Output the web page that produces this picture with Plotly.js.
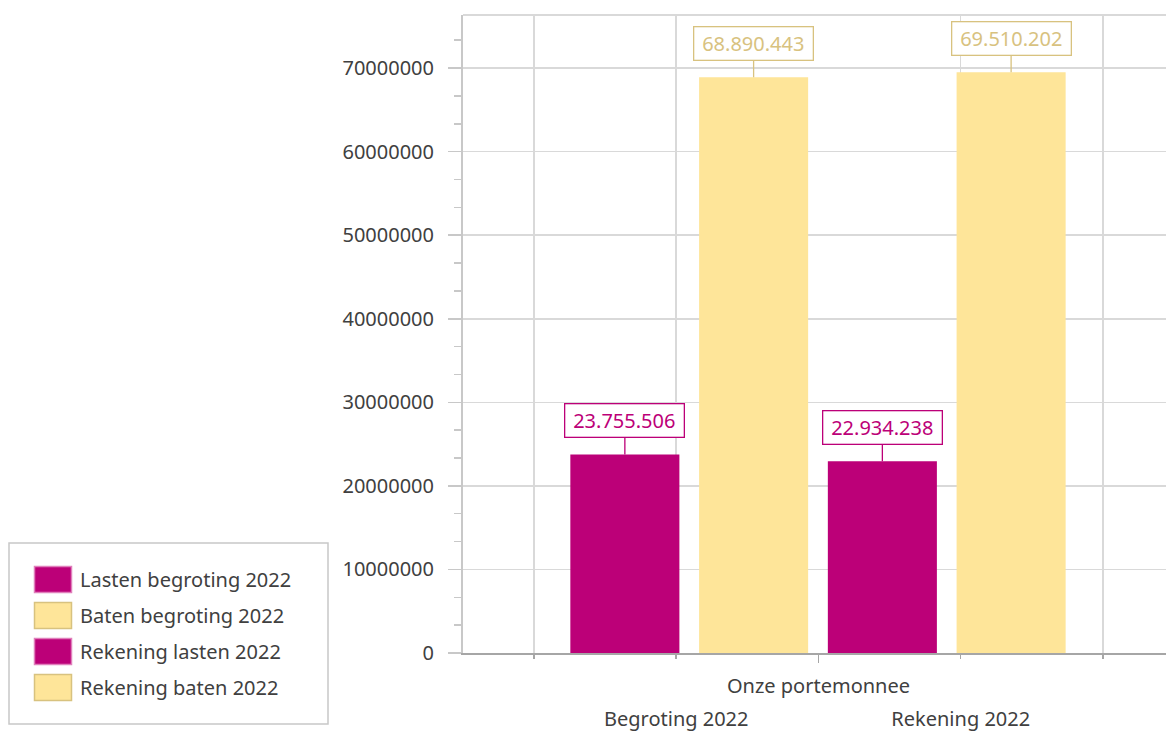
<!DOCTYPE html>
<html>
<head>
<meta charset="utf-8">
<script src="https://cdn.plot.ly/plotly-3.0.1.min.js"></script>
<style>
  html, body { margin: 0; padding: 0; background: #fff; }
  #chart { width: 1166px; height: 731px; }
</style>
</head>
<body>
<div id="chart"></div>
<script>
// ---- data ----
const categories = ['Begroting 2022', 'Rekening 2022'];
const groupTitle = 'Onze portemonnee';
const seriesNames = ['Lasten begroting 2022', 'Baten begroting 2022', 'Rekening lasten 2022', 'Rekening baten 2022'];
const lastenBegroting = [23755506];
const batenBegroting = [68890443];
const rekeningLasten = [22934238];
const rekeningBaten = [69510202];

// ---- style ----
const MAGENTA = '#BC0078';
const YELLOW = '#FEE599';
const YELLOW_DARK = '#D8C27F';
const TEXT = '#404040';
const FONT = 'Noto Sans';
const GRID = '#d9d9d9';

function nl(v) { return String(v).replace(/\B(?=(\d{3})+(?!\d))/g, '.'); }

const seriesDefs = [
  { name: seriesNames[0], cat: 0, values: lastenBegroting, group: 'lasten', color: MAGENTA, label: MAGENTA, swatchLine: '#e07fbb' },
  { name: seriesNames[1], cat: 0, values: batenBegroting, group: 'baten', color: YELLOW, label: YELLOW_DARK, swatchLine: YELLOW_DARK },
  { name: seriesNames[2], cat: 1, values: rekeningLasten, group: 'lasten', color: MAGENTA, label: MAGENTA, swatchLine: '#e07fbb' },
  { name: seriesNames[3], cat: 1, values: rekeningBaten, group: 'baten', color: YELLOW, label: YELLOW_DARK, swatchLine: YELLOW_DARK }
];
const groupOffset = { lasten: -0.25, baten: 0.25 };

const traces = seriesDefs.map((s, i) => ({
  type: 'bar',
  name: s.name,
  x: [categories[s.cat]],
  y: s.values,
  offsetgroup: s.group,
  legendgroup: 'g' + i,
  marker: { color: s.color, line: { width: 0 } },
  hovertemplate: '%{y}<extra>' + s.name + '</extra>'
}));
// empty helper traces so the overlay axes (group title, category labels, grid) are drawn
traces.push({ type: 'scatter', x: [], y: [], xaxis: 'x2', yaxis: 'y', showlegend: false, hoverinfo: 'skip' });
traces.push({ type: 'scatter', x: [], y: [], xaxis: 'x3', yaxis: 'y', showlegend: false, hoverinfo: 'skip' });

const annotations = seriesDefs.map(s => ({
  xref: 'x', yref: 'y',
  x: s.cat + groupOffset[s.group],
  y: s.values[0],
  text: nl(s.values[0]),
  showarrow: true, arrowhead: 0, arrowwidth: 1.3, arrowcolor: s.label,
  ax: 0, ay: -34, standoff: 0,
  bordercolor: s.label, borderwidth: 1.3, borderpad: 3,
  bgcolor: '#ffffff',
  width: 112, height: 26,
  font: { family: FONT, size: 20, color: s.label }
}));

const L = 463, T = 15, B = 78, W = 1166, H = 731;
const plotW = W - L, plotH = H - T - B;
const px2paperX = px => (px - L) / plotW;
const px2paperY = py => (H - B - py) / plotH;

const layout = {
  width: W, height: H,
  margin: { l: L, r: 0, t: T, b: B, pad: 0 },
  paper_bgcolor: '#ffffff', plot_bgcolor: '#ffffff',
  font: { family: FONT, size: 20, color: TEXT },
  barmode: 'group', bargap: 0, bargroupgap: 0.153,
  showlegend: true,
  legend: {
    x: px2paperX(26), xanchor: 'left',
    y: px2paperY(560), yanchor: 'top',
    bgcolor: 'rgba(0,0,0,0)', borderwidth: 0,
    itemwidth: 44, tracegroupgap: 7,
    font: { family: FONT, size: 20, color: TEXT },
    itemclick: false, itemdoubleclick: false
  },
  xaxis: {
    type: 'category', categoryorder: 'array', categoryarray: categories,
    range: [-0.8786, 1.8515],
    showticklabels: false, ticks: '', showgrid: false, zeroline: false,
    showline: true, linecolor: '#a6a6a6', linewidth: 2,
    automargin: false, fixedrange: true
  },
  xaxis2: {
    overlaying: 'x', anchor: 'y', side: 'bottom',
    range: [-0.499, 4.443],
    tickmode: 'array', tickvals: [2], ticktext: [groupTitle],
    ticks: 'outside', ticklen: 9, tickwidth: 1.5, tickcolor: '#a6a6a6',
    showgrid: false, zeroline: false, showline: false,
    ticklabelstandoff: 6,
    tickfont: { family: FONT, size: 20, color: TEXT },
    minor: { tickmode: 'array', tickvals: [0, 1, 3, 4], ticks: 'outside', ticklen: 5, tickwidth: 1.5, tickcolor: '#a6a6a6', showgrid: true, gridcolor: GRID, gridwidth: 1.5 },
    automargin: false, fixedrange: true
  },
  xaxis3: {
    overlaying: 'x', anchor: 'y', side: 'bottom',
    range: [-0.499, 4.443],
    tickmode: 'array', tickvals: [1, 3], ticktext: categories,
    ticks: '', showgrid: false, zeroline: false, showline: false,
    ticklabelstandoff: 52,
    tickfont: { family: FONT, size: 20, color: TEXT },
    automargin: false, fixedrange: true
  },
  yaxis: {
    range: [0, 76.35e6], dtick: 1e7, tick0: 0, tickformat: 'd',
    ticks: 'outside', ticklen: 13, tickwidth: 1.5, tickcolor: '#c8c8c8',
    minor: { dtick: 1e7 / 3, tick0: 0, ticks: 'outside', ticklen: 7, tickwidth: 1.5, tickcolor: '#c8c8c8', showgrid: false },
    showgrid: true, gridcolor: GRID, gridwidth: 1.5,
    zeroline: false, showline: true, linecolor: '#c8c8c8', linewidth: 2,
    ticklabelstandoff: 10,
    tickfont: { family: FONT, size: 20, color: TEXT },
    automargin: false, fixedrange: true
  },
  shapes: [
    { type: 'line', xref: 'paper', yref: 'paper', x0: 0, x1: 1, y0: 1, y1: 1, line: { color: GRID, width: 2 } },
    { type: 'rect', xref: 'paper', yref: 'paper', x0: px2paperX(9), x1: px2paperX(328), y0: px2paperY(724), y1: px2paperY(543), line: { color: '#c8c8c8', width: 1.5 }, fillcolor: 'rgba(0,0,0,0)', layer: 'below' }
  ],
  annotations: annotations
};

Plotly.newPlot('chart', traces, layout, { displayModeBar: false, staticPlot: true }).then(gd => {
  const pts = gd.querySelectorAll('.legend .traces');
  pts.forEach((tr, i) => {
    tr.querySelectorAll('.legendpoints path').forEach(p => {
      p.setAttribute('d', 'M18.5,13H-18.5V-13H18.5Z');
      p.style.stroke = seriesDefs[i].swatchLine;
      p.style.strokeWidth = '1.5px';
    });
  });
});
</script>
</body>
</html>
